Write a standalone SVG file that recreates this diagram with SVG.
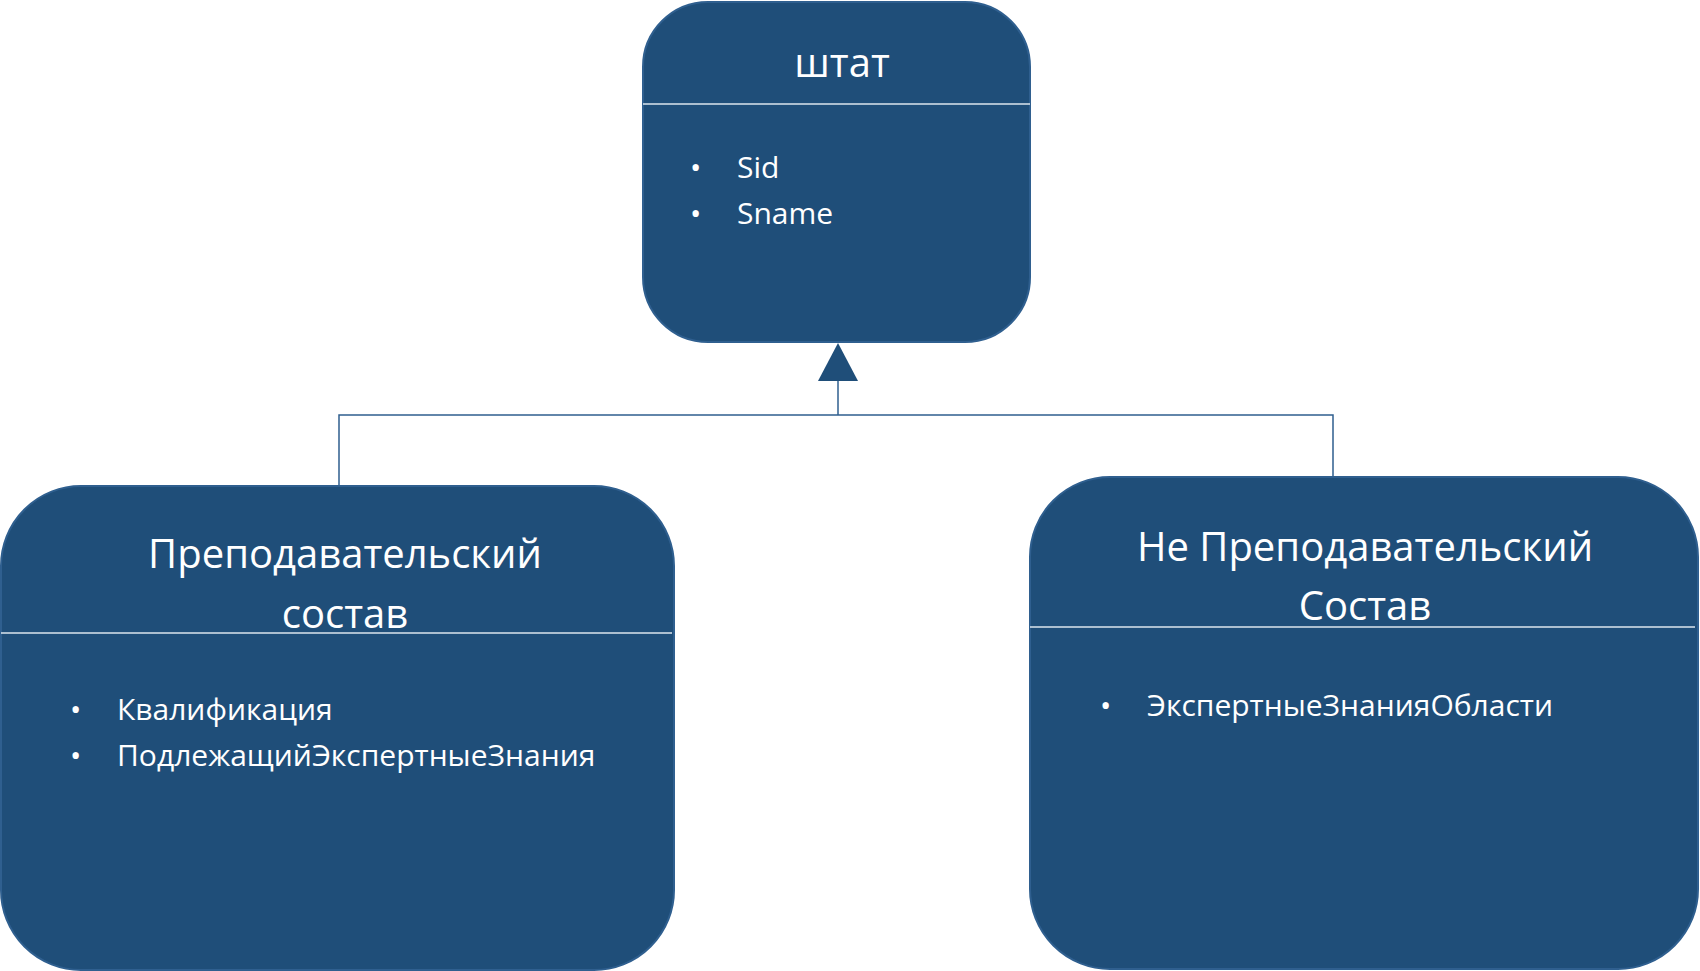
<svg xmlns="http://www.w3.org/2000/svg" width="1700" height="971" viewBox="0 0 1700 971">
<style>
.box{fill:#1F4E79;stroke:#2F5F8F;stroke-width:2}
.div{stroke:#DDE6EE;stroke-width:1.5}
.t{font-family:"Open Sans","Liberation Sans",sans-serif;fill:#fff;font-size:40px;text-anchor:middle}
.b{font-family:"Open Sans","Liberation Sans",sans-serif;fill:#fff;font-size:30px}
.c{stroke:#2F5F8F;stroke-width:1.5;fill:none}
</style>
<rect width="1700" height="971" fill="#fff"/>
<g id="connectors">
<polyline class="c" points="339,486 339,415 1333,415 1333,477"/>
<line class="c" x1="838" y1="415" x2="838" y2="380"/>
<polygon points="838,343 818,381 858,381" fill="#1F4E79"/>
</g>
<g id="shtat">
<rect class="box" x="643" y="2" width="387" height="340" rx="65"/>
<line class="div" x1="643" y1="104" x2="1030" y2="104"/>
<text class="t" x="842" y="77">штат</text>
<text class="b" x="690" y="178">•</text><text class="b" x="737" y="178">Sid</text>
<text class="b" x="690" y="224">•</text><text class="b" x="737" y="224">Sname</text>
</g>
<g id="teaching">
<rect class="box" x="1" y="486" width="673" height="484" rx="80"/>
<line class="div" x1="1" y1="633" x2="672" y2="633"/>
<text class="t" x="345" y="568">Преподавательский</text>
<text class="t" x="345" y="628">состав</text>
<text class="b" x="70" y="720">•</text><text class="b" x="117" y="720">Квалификация</text>
<text class="b" x="70" y="766">•</text><text class="b" x="117" y="766">ПодлежащийЭкспертныеЗнания</text>
</g>
<g id="nonteaching">
<rect class="box" x="1030" y="477" width="668" height="492" rx="80"/>
<line class="div" x1="1030" y1="627" x2="1695" y2="627"/>
<text class="t" x="1365" y="561">Не Преподавательский</text>
<text class="t" x="1365" y="620">Состав</text>
<text class="b" x="1100" y="716">•</text><text class="b" x="1147" y="716">ЭкспертныеЗнанияОбласти</text>
</g>
</svg>
